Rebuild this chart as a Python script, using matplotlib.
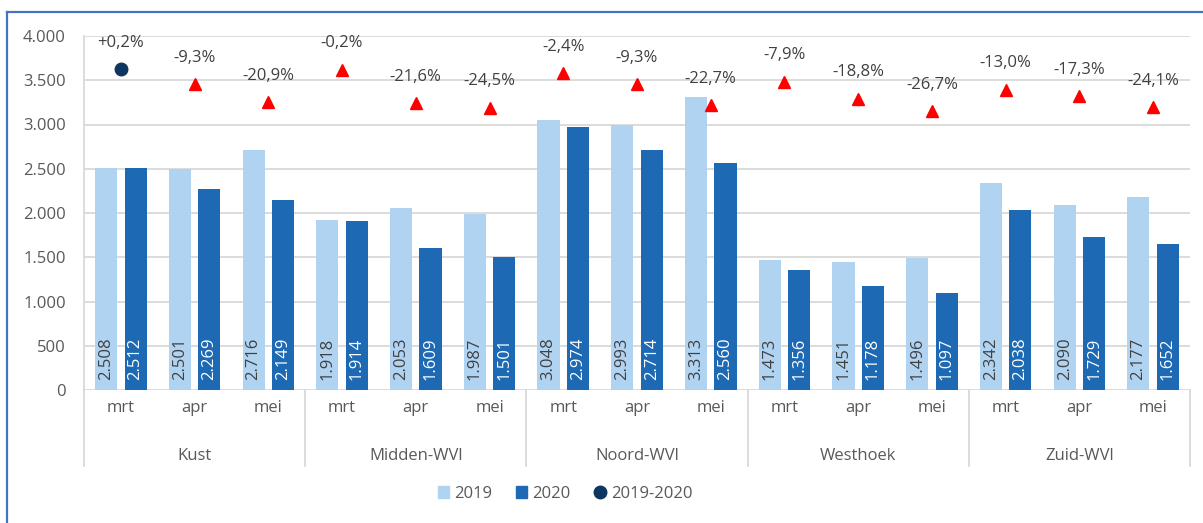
import matplotlib.pyplot as plt
from matplotlib.lines import Line2D
from matplotlib.patches import Patch

plt.rcParams['font.family'] = ['Open Sans', 'DejaVu Sans']

regions = ['Kust', 'Midden-WVl', 'Noord-WVl', 'Westhoek', 'Zuid-WVl']
months = ['mrt', 'apr', 'mei']
v2019 = [2508, 2501, 2716, 1918, 2053, 1987, 3048, 2993, 3313, 1473, 1451, 1496, 2342, 2090, 2177]
v2020 = [2512, 2269, 2149, 1914, 1609, 1501, 2974, 2714, 2560, 1356, 1178, 1097, 2038, 1729, 1652]
pct = [0.2, -9.3, -20.9, -0.2, -21.6, -24.5, -2.4, -9.3, -22.7, -7.9, -18.8, -26.7, -13.0, -17.3, -24.1]

c19 = '#b0d3f2'
c20 = '#1d69b4'
navy = '#0e3660'
grid_c = '#d9d9d9'
txt_c = '#595959'
fs = 12

fig = plt.figure(figsize=(12.03, 5.23), dpi=100)
ax = fig.add_axes([84/1203, 1-390/523, (1190-84)/1203, (390-36)/523])

n = len(v2019)
x = list(range(n))
w = 0.3
ax.bar([i - 0.2 for i in x], v2019, width=w, color=c19, zorder=2)
ax.bar([i + 0.2 for i in x], v2020, width=w, color=c20, zorder=2)

for i in x:
    ax.annotate(f"{v2019[i]:,}".replace(',', '.'), (i - 0.2, 0), xytext=(0, 7), textcoords='offset points',
                rotation=90, ha='center', va='bottom', fontsize=fs, color='#404040', zorder=3)
    ax.annotate(f"{v2020[i]:,}".replace(',', '.'), (i + 0.2, 0), xytext=(0, 7), textcoords='offset points',
                rotation=90, ha='center', va='bottom', fontsize=fs, color='white', zorder=3)

ax.set_xlim(-0.5, n - 0.5)
ax.set_ylim(0, 4000)
ax.set_yticks(range(0, 4001, 500))
ax.set_yticklabels([f"{t:,}".replace(',', '.') for t in range(0, 4001, 500)])
ax.tick_params(axis='y', length=0, labelsize=fs, labelcolor=txt_c, pad=13)
ax.set_xticks([])
ax.grid(axis='y', color=grid_c, lw=1.3, zorder=0)
for s in ['top', 'right', 'bottom']:
    ax.spines[s].set_visible(False)
ax.spines['left'].set_color(grid_c)
ax.spines['left'].set_linewidth(1.3)
ax.set_axisbelow(True)

# month and region labels under the axis
for i in x:
    ax.text(i, -0.05, months[i % 3], transform=ax.get_xaxis_transform(), ha='center', va='center',
            fontsize=fs, color=txt_c)
for g, r in enumerate(regions):
    ax.text(g * 3 + 1, -0.186, r, transform=ax.get_xaxis_transform(), ha='center', va='center',
            fontsize=fs, color=txt_c)
for g in range(len(regions) + 1):
    ax.add_line(Line2D([g * 3 - 0.5, g * 3 - 0.5], [0, -0.215], transform=ax.get_xaxis_transform(),
                       color=grid_c, lw=1.3, clip_on=False))

# secondary axis for the percentage changes
ax2 = ax.twinx()
ax2.set_ylim(-204.7, 21.3)
ax2.axis('off')
for i in x:
    if pct[i] >= 0:
        ax2.plot(i, pct[i], 'o', color=navy, ms=9, zorder=4)
        lab = f"+{pct[i]:.1f}%".replace('.', ',')
    else:
        ax2.plot(i, pct[i], '^', color='#ff0000', ms=9, zorder=4)
        lab = f"{pct[i]:.1f}%".replace('.', ',')
    ax2.annotate(lab, (i, pct[i]), xytext=(0, 19), textcoords='offset points', ha='center', va='center',
                 fontsize=fs, color='#404040')

handles = [Patch(color=c19, label='2019'), Patch(color=c20, label='2020'),
           Line2D([], [], marker='o', ls='none', color=navy, ms=9, label='2019-2020')]
leg = fig.legend(handles=handles, loc='center', bbox_to_anchor=(565/1203, 1-494/523), ncol=3, frameon=False,
                 fontsize=fs, handlelength=0.7, handleheight=0.7, handletextpad=0.3, columnspacing=1.4)
for t in leg.get_texts():
    t.set_color(txt_c)

# blue frame around the chart
fig.add_artist(Line2D([7/1203, 7/1203], [0, 1-12/523], color='#4472c4', lw=1.6))
fig.add_artist(Line2D([7/1203, 1], [1-12/523, 1-12/523], color='#4472c4', lw=1.6))

fig.savefig('out.png', dpi=100)
